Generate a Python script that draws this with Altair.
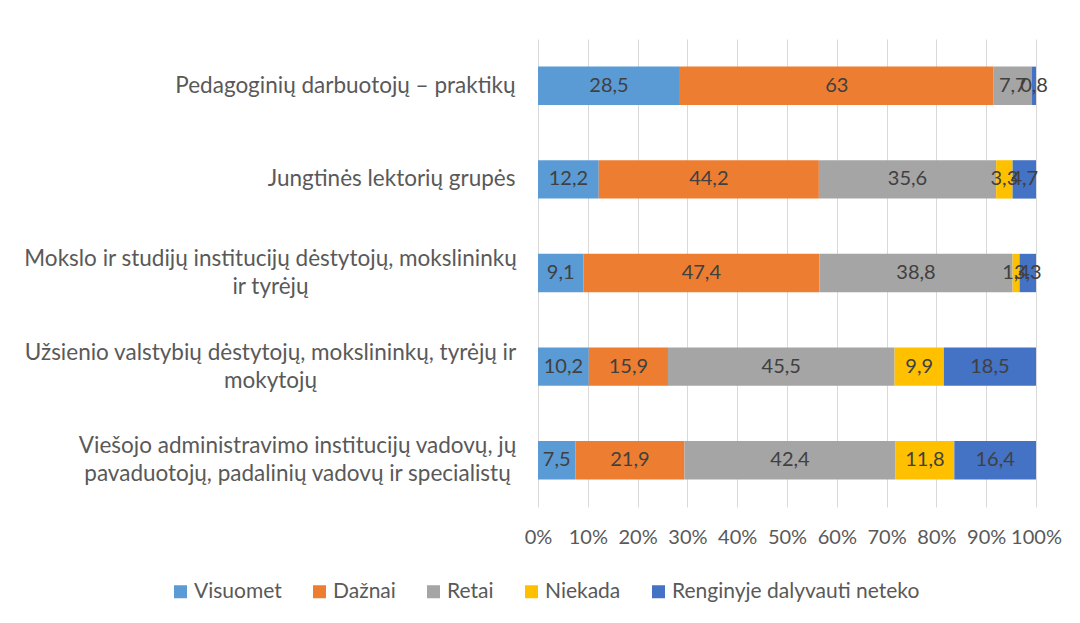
import altair as alt
import pandas as pd

categories = [
    "Pedagoginių darbuotojų – praktikų",
    "Jungtinės lektorių grupės",
    "Mokslo ir studijų institucijų dėstytojų, mokslininkų\nir tyrėjų",
    "Užsienio valstybių dėstytojų, mokslininkų, tyrėjų ir\nmokytojų",
    "Viešojo administravimo institucijų vadovų, jų\npavaduotojų, padalinių vadovų ir specialistų",
]
series = ["Visuomet", "Dažnai", "Retai", "Niekada", "Renginyje dalyvauti neteko"]
colors = ["#5B9BD5", "#ED7D31", "#A5A5A5", "#FFC000", "#4472C4"]

visuomet = [28.5, 12.2, 9.1, 10.2, 7.5]
daznai = [63.0, 44.2, 47.4, 15.9, 21.9]
retai = [7.7, 35.6, 38.8, 45.5, 42.4]
niekada = [0.0, 3.3, 1.4, 9.9, 11.8]
neteko = [0.8, 4.7, 3.3, 18.5, 16.4]

x_ticks = [0, 10, 20, 30, 40, 50, 60, 70, 80, 90, 100]

rows = []
for s_i, (name, vals) in enumerate(zip(series, [visuomet, daznai, retai, niekada, neteko])):
    for c, v in zip(categories, vals):
        rows.append({"cat": c, "series": name, "order": s_i, "v": v})
df = pd.DataFrame(rows)

FONT = "Lato"
LABEL_COLOR = "#595959"

MULTI = "indexof(datum.value, '\\n') >= 0"

base = alt.Chart(df)

y_enc = alt.Y(
    "cat:N",
    sort=categories,
    title=None,
    scale=alt.Scale(paddingInner=0.59, paddingOuter=0.295),
    axis=alt.Axis(
        domain=False,
        ticks=False,
        labelExpr="split(datum.label, '\\n')",
        labelAlign={"condition": {"test": MULTI, "value": "center"}, "value": "right"},
        labelPadding={
            "condition": [
                {"test": "indexof(datum.value, 'Viešojo') == 0", "value": 241},
                {"test": MULTI, "value": 268},
            ],
            "value": 23,
        },
        labelOffset={"condition": {"test": MULTI, "value": -14}, "value": 0},
        labelFontSize=22.5,
        labelLineHeight=28,
        labelColor=LABEL_COLOR,
        labelFont=FONT,
        labelLimit=600,
    ),
)

bars = base.mark_bar().encode(
    y=y_enc,
    x=alt.X(
        "v:Q",
        stack="zero",
        title=None,
        scale=alt.Scale(domain=[0, 100], nice=False),
        axis=alt.Axis(
            values=x_ticks,
            labelExpr="datum.value + '%'",
            labelOverlap=False,
            labelFlush=False,
            domain=False,
            ticks=False,
            grid=True,
            gridColor="#D9D9D9",
            gridWidth=1,
            labelPadding=20,
            labelFontSize=20,
            labelColor=LABEL_COLOR,
            labelFont=FONT,
        ),
    ),
    color=alt.Color(
        "series:N",
        sort=series,
        scale=alt.Scale(domain=series, range=colors),
        legend=alt.Legend(
            title=None,
            orient="none",
            direction="horizontal",
            legendX=-368,
            legendY=542,
            symbolType="square",
            symbolSize=169,
            symbolStrokeWidth=0,
            labelFontSize=21,
            labelColor=LABEL_COLOR,
            labelFont=FONT,
            labelLimit=500,
            columnPadding=27,
            labelOffset=3,
        ),
    ),
    order=alt.Order("order:Q"),
)

labels = (
    base.transform_filter("datum.v > 0")
    .transform_window(cum="sum(v)", sort=[alt.SortField("order")], groupby=["cat"])
    .transform_calculate(
        mid="datum.cum - datum.v / 2",
        txt="replace(format(datum.v, '.1~f'), '.', ',')",
    )
    .mark_text(fontSize=20, font=FONT, color="#404040", baseline="middle", align="center")
    .encode(
        y=alt.Y("cat:N", sort=categories),
        x=alt.X("mid:Q"),
        text="txt:N",
    )
)

chart = (
    alt.layer(bars, labels)
    .properties(
        width=498,
        height=468,
        autosize=alt.AutoSizeParams(type="none"),
        padding={"left": 530, "top": 31, "right": 36, "bottom": 100},
        background="white",
    )
    .configure_view(stroke=None)
)

chart.save("out.html", embed_options={"renderer": "svg", "actions": False})
